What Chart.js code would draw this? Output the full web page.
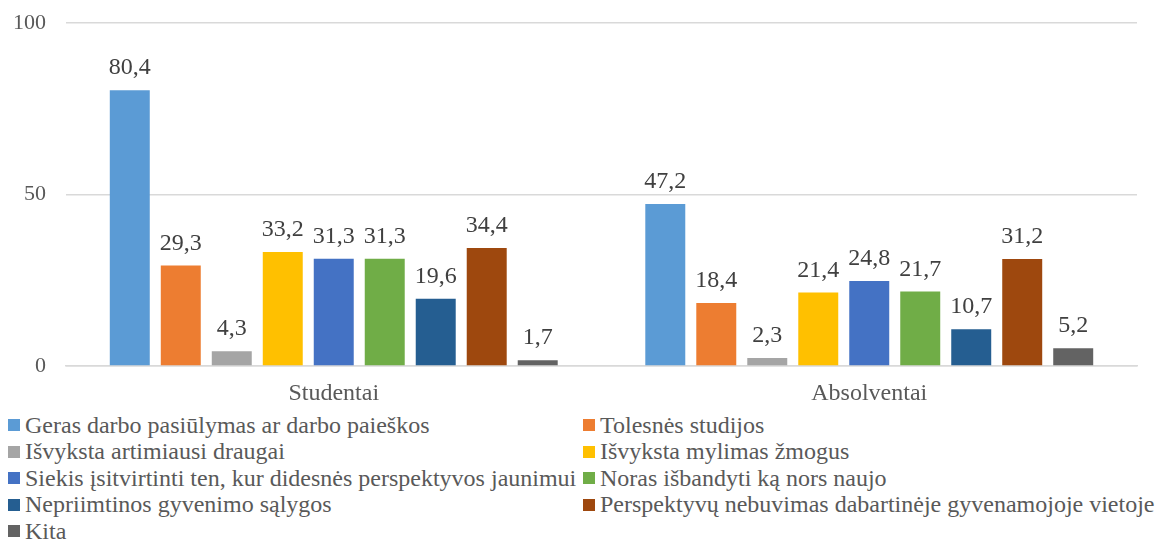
<!DOCTYPE html>
<html lang="lt">
<head>
<meta charset="utf-8">
<script src="https://cdn.jsdelivr.net/npm/chart.js@4"></script>
<style>
  body { margin: 0; background: #fff; }
  #wrap { position: relative; width: 1163px; height: 543px; }
  #chart { position: absolute; left: 0; top: 0; }
  #legend {
    position: absolute; left: 8px; top: 412px; width: 1160px;
    display: grid; grid-template-columns: 575px auto; grid-auto-rows: 26.5px;
    font-family: "Liberation Serif", "Liberation Sans", sans-serif; font-size: 24px; color: #595959;
  }
  .item { display: flex; align-items: center; white-space: nowrap; }
  .box { width: 12px; height: 12px; margin-right: 5px; flex: none; }
</style>
</head>
<body>
<div id="wrap">
  <canvas id="chart" width="1163" height="412"></canvas>
  <div id="legend"></div>
</div>
<script>
// Survey groups and reasons
const groups = ['Studentai', 'Absolventai'];
const reasons = [
  'Geras darbo pasiūlymas ar darbo paieškos',
  'Tolesnės studijos',
  'Išvyksta artimiausi draugai',
  'Išvyksta mylimas žmogus',
  'Siekis įsitvirtinti ten, kur didesnės perspektyvos jaunimui',
  'Noras išbandyti ką nors naujo',
  'Nepriimtinos gyvenimo sąlygos',
  'Perspektyvų nebuvimas dabartinėje gyvenamojoje vietoje',
  'Kita'
];
// Percentages per reason: [Studentai, Absolventai]
const values = [
  [80.4, 47.2],
  [29.3, 18.4],
  [4.3, 2.3],
  [33.2, 21.4],
  [31.3, 24.8],
  [31.3, 21.7],
  [19.6, 10.7],
  [34.4, 31.2],
  [1.7, 5.2]
];
const colors = ['#5B9BD5', '#ED7D31', '#A5A5A5', '#FFC000', '#4472C4', '#70AD47', '#255E91', '#9E480E', '#636363'];
const yTicks = [0, 50, 100];

const font = '"Liberation Serif", "Liberation Sans", sans-serif';

// writes the value above each bar, decimal comma
const valueLabels = {
  id: 'valueLabels',
  afterDatasetsDraw(chart) {
    const c = chart.ctx;
    c.save();
    c.font = '24px ' + font;
    c.fillStyle = '#404040';
    c.textAlign = 'center';
    c.textBaseline = 'alphabetic';
    chart.data.datasets.forEach((ds, i) => {
      chart.getDatasetMeta(i).data.forEach((bar, j) => {
        c.fillText(ds.data[j].toFixed(1).replace('.', ','), bar.x, bar.y - 16);
      });
    });
    c.restore();
  }
};

new Chart(document.getElementById('chart'), {
  type: 'bar',
  data: {
    labels: groups,
    datasets: reasons.map((r, i) => ({
      label: r,
      data: values[i],
      backgroundColor: colors[i],
      borderWidth: 0,
      categoryPercentage: 0.857,
      barPercentage: 0.784
    }))
  },
  options: {
    responsive: false,
    animation: false,
    events: [],
    layout: { padding: { left: 12, right: 26, top: 23, bottom: 0 } },
    plugins: { legend: { display: false }, tooltip: { enabled: false } },
    scales: {
      x: {
        grid: { display: false, drawTicks: false },
        border: { color: '#d9d9d9', width: 1.5 },
        ticks: { font: { family: font, size: 24 }, color: '#595959', padding: 13 },
        afterFit: axis => { axis.height = 46; }
      },
      y: {
        min: 0, max: 100,
        afterBuildTicks: axis => { axis.ticks = yTicks.map(v => ({ value: v })); },
        afterFit: axis => {
          axis.width = 54;
          axis.paddingTop = 0;
          axis.paddingBottom = 0;
        },
        grid: { color: '#d9d9d9', lineWidth: 1.5, drawTicks: false },
        border: { display: false },
        ticks: { font: { family: font, size: 22 }, color: '#595959', padding: 20 }
      }
    }
  },
  plugins: [valueLabels]
});

// two-column legend under the chart
const legend = document.getElementById('legend');
reasons.forEach((r, i) => {
  const item = document.createElement('div');
  item.className = 'item';
  const box = document.createElement('span');
  box.className = 'box';
  box.style.background = colors[i];
  item.appendChild(box);
  item.appendChild(document.createTextNode(r));
  legend.appendChild(item);
});
</script>
</body>
</html>
